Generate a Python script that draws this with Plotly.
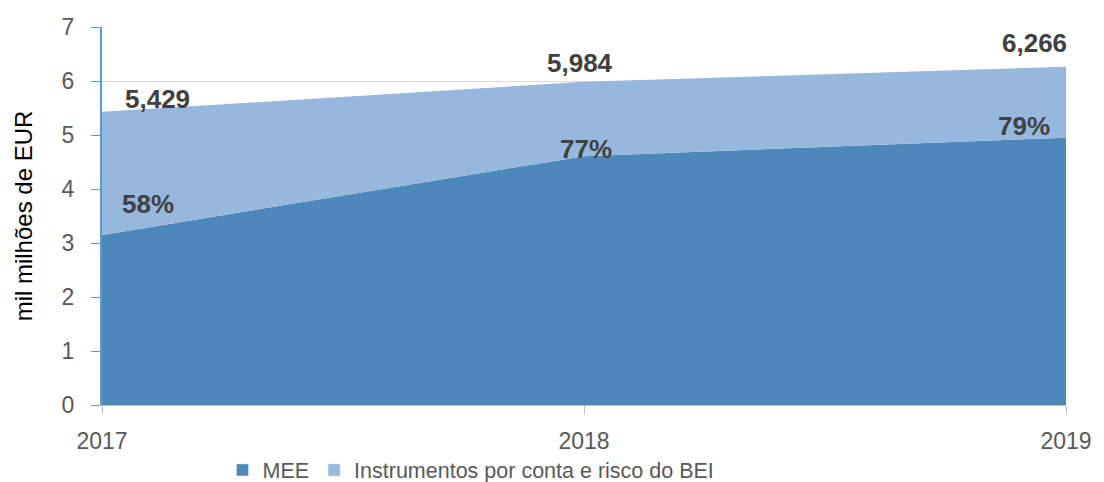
import plotly.graph_objects as go

years = [2017, 2018, 2019]
mee = [3.149, 4.608, 4.950]
total = [5.429, 5.984, 6.266]
instr = [t - m for t, m in zip(total, mee)]
total_labels = ["5,429", "5,984", "6,266"]
share_labels = ["58%", "77%", "79%"]

c_mee = "#4E88BB"
c_instr = "#96B8DE"

fig = go.Figure()
fig.add_trace(go.Scatter(
    x=years, y=mee, name="MEE", stackgroup="one", mode="none",
    fillcolor=c_mee, showlegend=False
))
fig.add_trace(go.Scatter(
    x=years, y=instr, name="Instrumentos por conta e risco do BEI", stackgroup="one",
    mode="none", fillcolor=c_instr, showlegend=False
))
# empty bars only to get square legend markers
fig.add_trace(go.Bar(x=[None], y=[None], name="MEE", marker_color=c_mee))
fig.add_trace(go.Bar(x=[None], y=[None], name="Instrumentos por conta e risco do BEI",
                     marker_color=c_instr))

# label offsets (pixels) to mimic the original placement
tot_shift = [(55, 13), (-4, 19), (-32, 24)]
pct_shift = [(46, 31), (2, 7), (-42, 12)]
for i, yr in enumerate(years):
    fig.add_annotation(x=yr, y=total[i], text="<b>" + total_labels[i] + "</b>",
                       showarrow=False, xshift=tot_shift[i][0], yshift=tot_shift[i][1],
                       font=dict(size=26, color="#404040"))
    fig.add_annotation(x=yr, y=mee[i], text="<b>" + share_labels[i] + "</b>",
                       showarrow=False, xshift=pct_shift[i][0], yshift=pct_shift[i][1],
                       font=dict(size=26, color="#404040"))

# page body has an 8px margin, so the figure is a bit smaller than the window
fig.update_layout(
    width=1096, height=474,
    margin=dict(l=94, r=38, t=19, b=77, autoexpand=False),
    paper_bgcolor="white", plot_bgcolor="white",
    font=dict(family="Liberation Sans, Arial", size=22, color="#595959"),
    showlegend=True,
    legend=dict(orientation="h", x=0.125, xanchor="left", y=-0.172, yanchor="middle",
                bgcolor="rgba(0,0,0,0)",
                font=dict(size=21.5, color="#595959"), traceorder="normal"),
)
fig.update_xaxes(
    range=[2017, 2019], tickvals=years, ticktext=[str(y) for y in years],
    showgrid=False, showline=True, linecolor="#BFBFBF", linewidth=1,
    ticks="outside", tickcolor="#BFBFBF", ticklen=8, zeroline=False,
    ticklabelstandoff=7,
    tickfont=dict(size=23, color="#595959"),
)
fig.update_yaxes(
    range=[0, 7], dtick=1, showgrid=True, gridcolor="#D9D9D9",
    showline=True, linecolor="#5B9BD5", linewidth=2,
    ticks="outside", tickcolor="#5B9BD5", ticklen=9, zeroline=False,
    ticklabelstandoff=12,
    tickfont=dict(size=23, color="#595959"),
    title=dict(text="mil milhões de EUR", font=dict(size=24, color="#000000"), standoff=22),
)

fig.write_html("out.html")
